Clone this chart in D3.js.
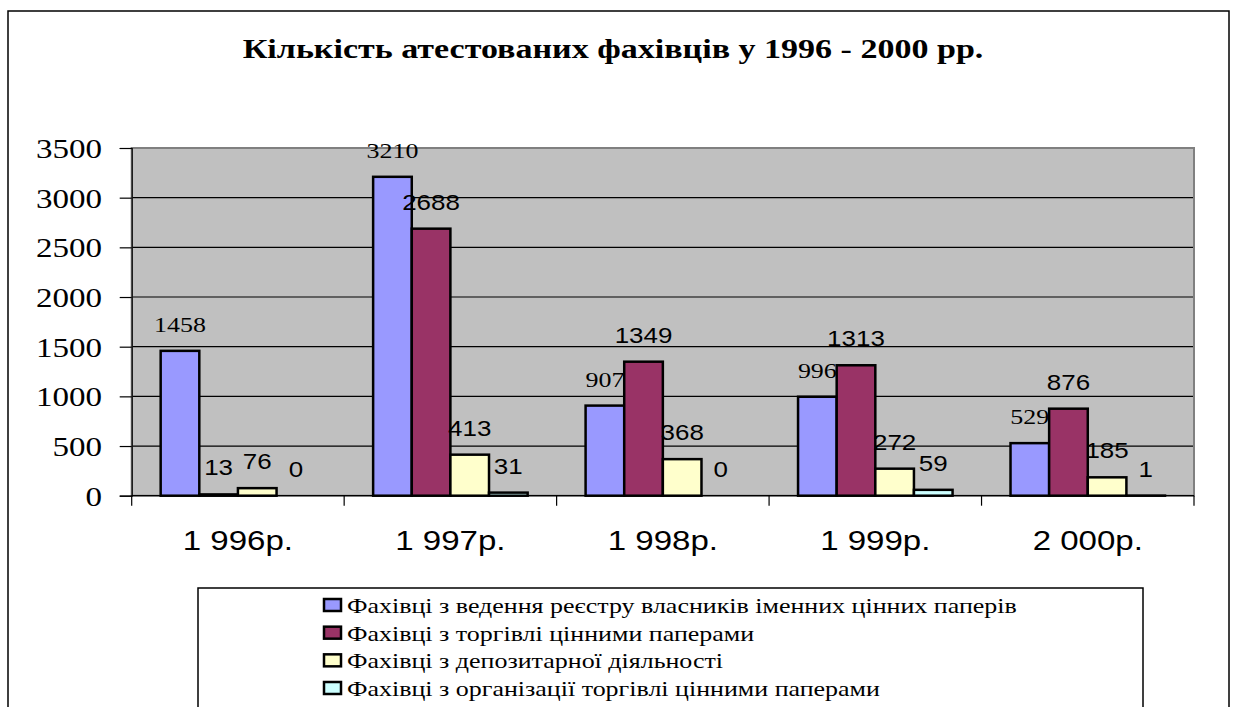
<!DOCTYPE html>
<html>
<head>
<meta charset="utf-8">
<script src="https://cdn.jsdelivr.net/npm/d3@7"></script>
<style>
  body { margin: 0; background: #fff; }
</style>
</head>
<body>
<svg width="1234" height="707"></svg>
<script>
// chart values
const categories = ['1 996р.', '1 997р.', '1 998р.', '1 999р.', '2 000р.'];
const seriesNames = [
    'Фахівці з ведення реєстру власників іменних цінних паперів',
    'Фахівці з торгівлі цінними паперами',
    'Фахівці з депозитарної діяльності',
    'Фахівці з організації торгівлі цінними паперами'
];
const registryValues = [1458, 3210, 907, 996, 529];
const tradingValues = [13, 2688, 1349, 1313, 876];
const depositoryValues = [76, 413, 368, 272, 185];
const organizationValues = [0, 31, 0, 59, 1];
const yTicks = [0, 500, 1000, 1500, 2000, 2500, 3000, 3500];
const titleText = 'Кількість атестованих фахівців у 1996 - 2000 рр.';

const seriesValues = [registryValues, tradingValues, depositoryValues, organizationValues];
const colors = ['#9999FF', '#993366', '#FFFFCC', '#CCFFFF'];

const svg = d3.select('svg');
const serif = "'Liberation Serif', serif";
const sans = "'Liberation Sans', sans-serif";
// the reference text is a bit wider than normal
const stretch = 1.18;

const addText = (parent, x, y, txt, family, size, anchor) => {
    const t = parent.append('text')
        .attr('x', x)
        .attr('y', y)
        .style('font-family', family)
        .attr('font-size', size)
        .attr('fill', '#000')
        .text(txt);
    if (anchor) t.attr('text-anchor', anchor);
    return t;
};

// stretch each text sideways after fonts are set
const widen = (t, sx = stretch) => {
    const w = t.node().getComputedTextLength();
    t.attr('textLength', w * sx).attr('lengthAdjust', 'spacingAndGlyphs');
    return t;
};

// outer chart border
svg.append('rect')
    .attr('x', 8).attr('y', 11)
    .attr('width', 1221).attr('height', 720)
    .attr('fill', 'none')
    .attr('stroke', '#000')
    .attr('stroke-width', 1.5);

const title = addText(svg, 613, 58, titleText, serif, 27, 'middle')
    .attr('font-weight', 'bold');
widen(title, 1.26);

const plot = { left: 131.7, right: 1194, top: 148, bottom: 495.7 };

const x0 = d3.scaleBand()
    .domain(categories)
    .range([plot.left, plot.right])
    .padding(0);

const x1 = d3.scaleBand()
    .domain(d3.range(seriesNames.length))
    .range([0, x0.bandwidth()])
    .paddingInner(0)
    .paddingOuter(0.75);

const y = d3.scaleLinear()
    .domain([0, 3500])
    .range([plot.bottom, plot.top]);

// plot background
svg.append('rect')
    .attr('x', plot.left).attr('y', plot.top)
    .attr('width', plot.right - plot.left)
    .attr('height', plot.bottom - plot.top)
    .attr('fill', '#C0C0C0');

// gridlines
svg.append('g')
    .selectAll('line')
    .data(yTicks.filter(d => d > 0 && d < 3500))
    .join('line')
        .attr('x1', plot.left).attr('x2', plot.right)
        .attr('y1', d => y(d)).attr('y2', d => y(d))
        .attr('stroke', '#000')
        .attr('stroke-width', 1.2);

// plot border
svg.append('rect')
    .attr('x', plot.left).attr('y', plot.top)
    .attr('width', plot.right - plot.left)
    .attr('height', plot.bottom - plot.top)
    .attr('fill', 'none')
    .attr('stroke', '#808080')
    .attr('stroke-width', 2);

// y axis
const yAxis = svg.append('g')
    .attr('transform', `translate(${plot.left}, 0)`)
    .call(d3.axisLeft(y).tickValues(yTicks).tickSize(12).tickFormat(''));
yAxis.select('.domain').attr('stroke', '#000').attr('stroke-width', 1.2);
yAxis.selectAll('.tick line').attr('stroke', '#000').attr('stroke-width', 1.2);

yTicks.forEach(t => {
    widen(addText(svg, 102, y(t) + 10, t, serif, 28, 'end'));
});

// x axis: ticks sit on category boundaries
const boundaries = categories.map(c => x0(c)).concat([plot.right]);
svg.append('line')
    .attr('x1', plot.left).attr('x2', plot.right)
    .attr('y1', plot.bottom).attr('y2', plot.bottom)
    .attr('stroke', '#000').attr('stroke-width', 1.2);
svg.append('g')
    .selectAll('line')
    .data(boundaries)
    .join('line')
        .attr('x1', d => d).attr('x2', d => d)
        .attr('y1', plot.bottom).attr('y2', plot.bottom + 10)
        .attr('stroke', '#000')
        .attr('stroke-width', 1.2);

categories.forEach(c => {
    widen(addText(svg, x0(c) + x0.bandwidth() / 2, 550, c, sans, 28, 'middle'));
});

// bars and labels, series by series so later bars cover earlier labels
seriesValues.forEach((vals, si) => {
    const g = svg.append('g');
    g.selectAll('rect')
        .data(vals)
        .join('rect')
            .attr('x', (d, i) => x0(categories[i]) + x1(si))
            .attr('y', d => y(d))
            .attr('width', x1.bandwidth())
            .attr('height', d => y(0) - y(d))
            .attr('fill', colors[si])
            .attr('stroke', '#000')
            .attr('stroke-width', 2.5);

    vals.forEach((v, i) => {
        const cx = x0(categories[i]) + x1(si) + x1.bandwidth() / 2;
        widen(addText(g, cx, y(v) - 19, v, si === 0 ? serif : sans, 22, 'middle'));
    });
});

// legend
const legend = svg.append('g');
legend.append('rect')
    .attr('x', 198).attr('y', 588)
    .attr('width', 945).attr('height', 130)
    .attr('fill', '#fff')
    .attr('stroke', '#000')
    .attr('stroke-width', 1.5);

const legendY = d3.scalePoint()
    .domain(d3.range(seriesNames.length))
    .range([605, 688]);

seriesNames.forEach((name, i) => {
    legend.append('rect')
        .attr('x', 324).attr('y', legendY(i) - 6)
        .attr('width', 17).attr('height', 12)
        .attr('fill', colors[i])
        .attr('stroke', '#000')
        .attr('stroke-width', 2.5);
    widen(addText(legend, 347, legendY(i) + 8, name, serif, 22));
});
</script>
</body>
</html>
